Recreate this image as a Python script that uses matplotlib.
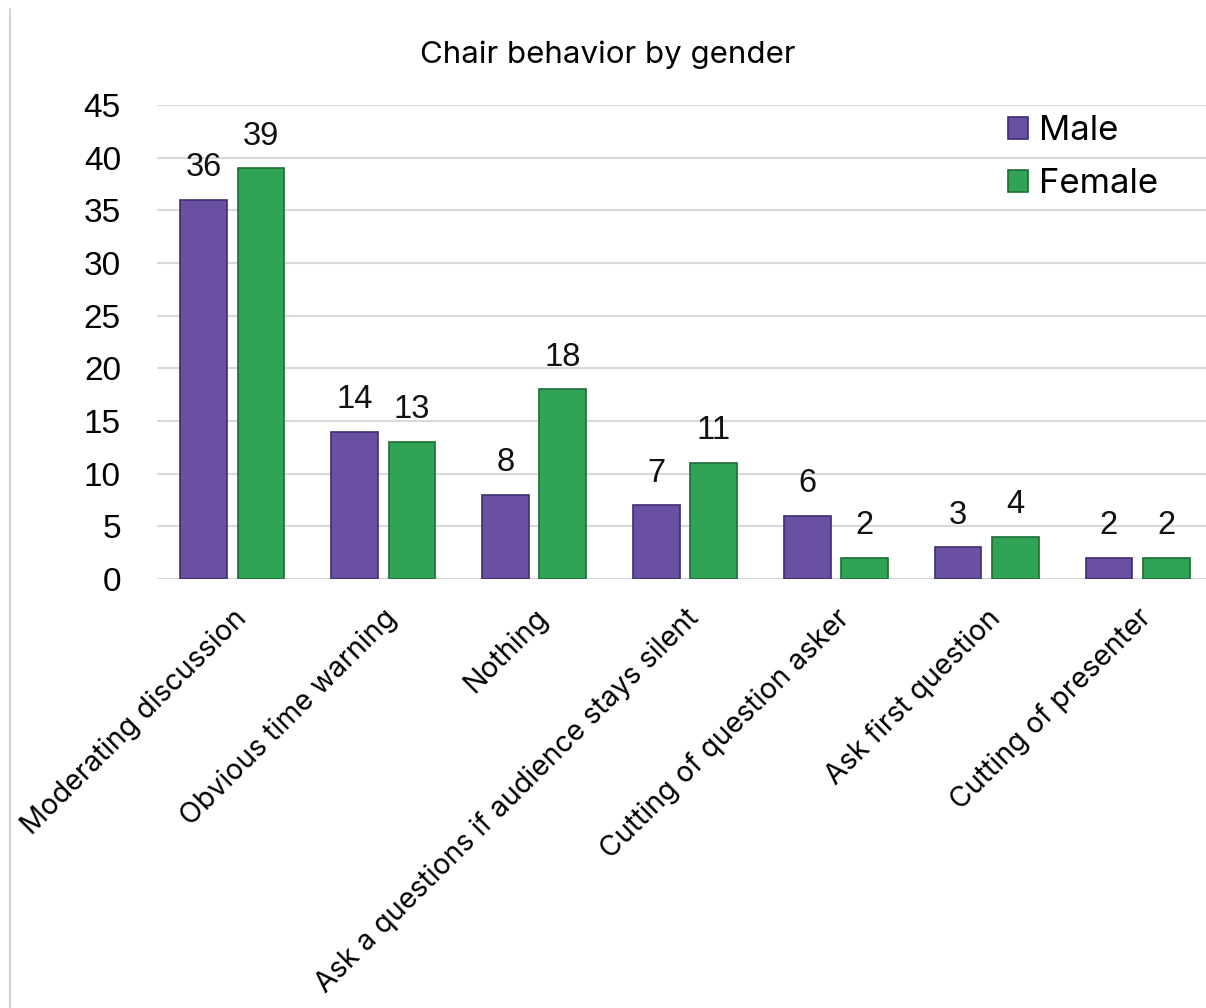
import matplotlib
matplotlib.use("Agg")
import matplotlib.pyplot as plt
import numpy as np
from matplotlib.lines import Line2D

categories = ["Moderating discussion", "Obvious time warning", "Nothing",
              "Ask a questions if audience stays silent", "Cutting of question asker",
              "Ask first question", "Cutting of presenter"]
male = [36, 14, 8, 7, 6, 3, 2]
female = [39, 13, 18, 11, 2, 4, 2]
yticks = [0, 5, 10, 15, 20, 25, 30, 35, 40, 45]

fig = plt.figure(figsize=(12.06, 10.08), dpi=100)
ax = fig.add_axes([157/1206, 429/1008, 1056/1206, 474/1008])

x = np.arange(len(categories))
w = 0.31
off = 0.19
bm = ax.bar(x - off, male, w, color="#6950A2", edgecolor="#3E2E6E", linewidth=1.2, label="Male", zorder=3)
bf = ax.bar(x + off, female, w, color="#30A354", edgecolor="#1E6B37", linewidth=1.2, label="Female", zorder=3)

for bars in (bm, bf):
    for b in bars:
        ax.annotate(f"{int(b.get_height())}", (b.get_x() + b.get_width()/2, b.get_height()),
                    xytext=(0, 12), textcoords="offset points", ha="center", va="bottom",
                    fontsize=23.5, family="Liberation Sans", color="#111111")

ax.set_xlim(-0.5, len(categories) - 0.5)
ax.set_ylim(0, 45)
ax.set_yticks(yticks)
ax.set_yticklabels([str(t) for t in yticks], family="Liberation Sans", fontsize=24)
ax.tick_params(axis="y", length=0, pad=26)
ax.tick_params(axis="x", length=0, pad=18)
ax.set_xticks(x)
ax.set_xticklabels(categories, rotation=45, ha="right", rotation_mode="anchor",
                   family="Inter", fontsize=20.5)
ax.grid(axis="y", color="#D9D9D9", linewidth=1.5, zorder=0)
for s in ax.spines.values():
    s.set_visible(False)

fig.text(608/1206, 1 - 55/1008, "Chair behavior by gender", ha="center", va="center",
         family="Inter", fontsize=22.5)

leg = ax.legend(loc="upper right", bbox_to_anchor=(1158/1206, 1 - 115/1008),
                bbox_transform=fig.transFigure, borderaxespad=0, borderpad=0,
                frameon=False, prop={"family": "Inter", "size": 25},
                handlelength=0.6, handleheight=0.6, handletextpad=0.3, labelspacing=0.6)

fig.add_artist(Line2D([10/1206, 10/1206], [0, 1 - 9/1008], color="#C8C8C8", linewidth=1.2))

fig.savefig("out.png", dpi=100)
